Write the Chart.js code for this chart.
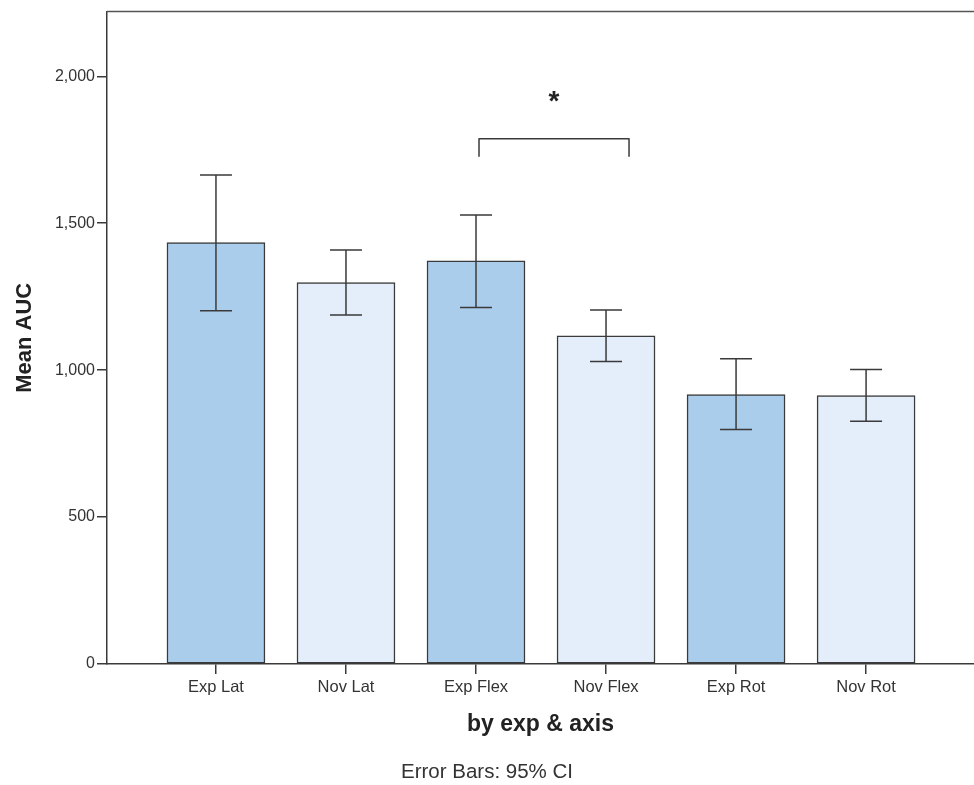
<!DOCTYPE html>
<html>
<head>
<meta charset="utf-8">
<title>Mean AUC by exp &amp; axis</title>
<script src="https://cdn.jsdelivr.net/npm/chart.js@4/dist/chart.umd.min.js"></script>
<style>
    body { margin: 0; background: #fff; }
</style>
</head>
<body>
<canvas id="myChart" width="974" height="785"></canvas>
<script>
"use strict";

const categories = ['Exp Lat', 'Nov Lat', 'Exp Flex', 'Nov Flex', 'Exp Rot', 'Nov Rot'];
const meanAUC = [1434, 1298, 1372, 1117, 917, 913];
const ciLower = [1202, 1188, 1213, 1029, 798, 826];
const ciUpper = [1664, 1409, 1528, 1205, 1039, 1002];
const yTicks = [0, 500, 1000, 1500, 2000];
// significance bracket: Exp Flex vs Nov Flex
const sigPair = [2, 3];
const sigLevel = 1787;
const sigLegEnd = 1726;
const sigStarLevel = 1925;

const lineColor = '#3a3a3a';
const expColor = '#abcdec';
const novColor = '#e3eefa';

Chart.defaults.font.family = "'Liberation Sans', Arial, sans-serif";
Chart.defaults.color = '#333';

const barData = [];
const barColors = [];
for (let i = 0; i < categories.length; i++) {
    barData.push({ x: i, y: meanAUC[i] });
    barColors.push(categories[i].startsWith('Exp') ? expColor : novColor);
}

// error bars, significance bracket, top frame line
const extras = {
    id: 'extras',
    afterDatasetsDraw(chart) {
        const ctx = chart.ctx;
        const xs = chart.scales.x;
        const ys = chart.scales.y;
        const area = chart.chartArea;
        ctx.save();
        ctx.strokeStyle = lineColor;
        ctx.lineWidth = 1.5;

        for (let i = 0; i < categories.length; i++) {
            const x = xs.getPixelForValue(i);
            const yl = ys.getPixelForValue(ciLower[i]);
            const yu = ys.getPixelForValue(ciUpper[i]);
            ctx.beginPath();
            ctx.moveTo(x, yl);
            ctx.lineTo(x, yu);
            ctx.moveTo(x - 16, yl);
            ctx.lineTo(x + 16, yl);
            ctx.moveTo(x - 16, yu);
            ctx.lineTo(x + 16, yu);
            ctx.stroke();
        }

        // bracket
        const bx1 = xs.getPixelForValue(sigPair[0]) + 3;
        const bx2 = xs.getPixelForValue(sigPair[1]) + 23;
        const by = ys.getPixelForValue(sigLevel);
        const byLeg = ys.getPixelForValue(sigLegEnd);
        ctx.lineJoin = 'round';
        ctx.beginPath();
        ctx.moveTo(bx1, byLeg);
        ctx.lineTo(bx1, by);
        ctx.lineTo(bx2, by);
        ctx.lineTo(bx2, byLeg);
        ctx.stroke();

        ctx.fillStyle = '#222';
        ctx.font = "bold 28px 'Liberation Sans', Arial, sans-serif";
        ctx.textAlign = 'center';
        ctx.textBaseline = 'middle';
        ctx.fillText('*', (bx1 + bx2) / 2, ys.getPixelForValue(sigStarLevel) + 4);

        // top frame
        ctx.strokeStyle = '#555';
        ctx.beginPath();
        ctx.moveTo(area.left, area.top);
        ctx.lineTo(area.right, area.top);
        ctx.stroke();
        ctx.restore();
    }
};

const ctx = document.getElementById('myChart').getContext('2d');
new Chart(ctx, {
    type: 'bar',
    data: {
        datasets: [{
            label: 'Mean AUC',
            data: barData,
            backgroundColor: barColors,
            borderColor: lineColor,
            borderWidth: 1.5,
            borderSkipped: false,
            barThickness: 98
        }]
    },
    options: {
        responsive: false,
        animation: false,
        layout: { padding: { top: 9, left: 0, right: 0, bottom: 0 } },
        plugins: {
            legend: { display: false },
            tooltip: { enabled: false },
            title: {
                display: true,
                position: 'bottom',
                text: 'Error Bars: 95% CI',
                color: '#333',
                font: { size: 20.5, weight: 'normal' },
                padding: { top: 0, bottom: 0 }
            }
        },
        scales: {
            x: {
                type: 'linear',
                min: -0.838,
                max: 5.83,
                offset: false,
                afterBuildTicks(scale) {
                    scale.ticks = categories.map((c, i) => ({ value: i }));
                },
                afterFit(scale) {
                    scale.height = 96.4;
                },
                ticks: {
                    autoSkip: false,
                    maxRotation: 0,
                    padding: 4,
                    font: { size: 16.5 },
                    color: '#333',
                    callback: value => categories[value]
                },
                grid: {
                    offset: false,
                    drawOnChartArea: false,
                    color: lineColor,
                    lineWidth: 1.5,
                    tickLength: 10
                },
                border: { color: lineColor, width: 1.5 },
                title: {
                    display: true,
                    text: 'by exp & axis',
                    color: '#222',
                    font: { size: 23, weight: 'bold' },
                    padding: { top: 0, bottom: 22 }
                }
            },
            y: {
                min: 0,
                max: 2220,
                afterBuildTicks(scale) {
                    scale.ticks = yTicks.map(v => ({ value: v }));
                },
                afterFit(scale) {
                    scale.width = 107;
                },
                ticks: {
                    padding: 2,
                    font: { size: 16 },
                    color: '#333',
                    callback: value => value.toLocaleString('en-US')
                },
                grid: {
                    drawOnChartArea: false,
                    color: lineColor,
                    lineWidth: 1.5,
                    tickLength: 10
                },
                border: { color: lineColor, width: 1.5 },
                title: {
                    display: true,
                    text: 'Mean AUC',
                    color: '#222',
                    font: { size: 22, weight: 'bold' },
                    padding: { top: 12, bottom: 0 }
                }
            }
        }
    },
    plugins: [extras]
});
</script>
</body>
</html>
